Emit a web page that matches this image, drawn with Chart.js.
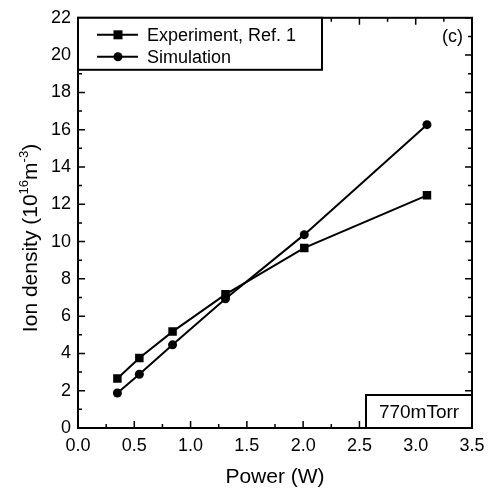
<!DOCTYPE html>
<html>
<head>
<meta charset="utf-8">
<script src="https://cdn.jsdelivr.net/npm/chart.js@4/dist/chart.umd.min.js"></script>
<style>
  html,body{margin:0;padding:0;background:#fff;}
  #wrap{width:492px;height:489px;}
</style>
</head>
<body>
<div id="wrap"><canvas id="ionChart"></canvas></div>
<script>
// ========== DATA ==========
const powerW = [0.35, 0.545, 0.84, 1.31, 2.01, 3.10];
const experiment = [2.65, 3.75, 5.17, 7.17, 9.66, 12.48];
const simulation = [1.88, 2.88, 4.46, 6.93, 10.37, 16.27];
const seriesNames = ["Experiment, Ref. 1", "Simulation"];
const xTicks = [0, 0.5, 1.0, 1.5, 2.0, 2.5, 3.0, 3.5];
const yTicks = [0, 2, 4, 6, 8, 10, 12, 14, 16, 18, 20, 22];

const FONT = "'Liberation Sans', Arial, sans-serif";

function pts(ys){
  return powerW.map((x,i)=>({x:x, y:ys[i]}));
}

// ========== FRAME, TICKS, LEGEND, LABELS ==========
const framePlugin = {
  id:"frame",
  afterDraw(chart){
    const ctx = chart.ctx;
    const a = chart.chartArea;
    const xs = chart.scales.x, ys = chart.scales.y;
    ctx.save();
    ctx.strokeStyle = "#000";
    ctx.lineWidth = 2;
    ctx.strokeRect(a.left, a.top, a.right-a.left, a.bottom-a.top);

    // inward ticks on all four sides
    ctx.lineWidth = 1.5;
    ctx.beginPath();
    for(let v=0; v<=3.5001; v+=0.25){
      const px = xs.getPixelForValue(v);
      const len = (Math.abs(v/0.5 - Math.round(v/0.5)) < 0.01) ? 7 : 4;
      ctx.moveTo(px, a.bottom); ctx.lineTo(px, a.bottom-len);
      ctx.moveTo(px, a.top); ctx.lineTo(px, a.top+len);
    }
    for(let v=0; v<=22; v+=1){
      const py = ys.getPixelForValue(v);
      const len = (v%2===0) ? 7 : 4;
      ctx.moveTo(a.left, py); ctx.lineTo(a.left+len, py);
      ctx.moveTo(a.right, py); ctx.lineTo(a.right-len, py);
    }
    ctx.stroke();

    // legend box
    const lx = a.left, ly = a.top, lw = 244, lh = 52;
    ctx.fillStyle = "#fff";
    ctx.fillRect(lx, ly, lw, lh);
    ctx.lineWidth = 2;
    ctx.strokeRect(lx, ly, lw, lh);
    const rows = [ly+17, ly+39];
    chart.data.datasets.forEach((ds,i)=>{
      const y = rows[i];
      ctx.strokeStyle = "#000";
      ctx.lineWidth = 2;
      ctx.beginPath();
      ctx.moveTo(lx+19, y); ctx.lineTo(lx+60, y);
      ctx.stroke();
      ctx.fillStyle = "#000";
      if(ds.pointStyle === "rect"){
        ctx.fillRect(lx+40-4.5, y-4.5, 9, 9);
      } else {
        ctx.beginPath(); ctx.arc(lx+40, y, 4.5, 0, Math.PI*2); ctx.fill();
      }
      ctx.font = "18px " + FONT;
      ctx.textBaseline = "middle";
      ctx.textAlign = "left";
      ctx.fillText(ds.label, lx+69, y+1);
    });

    // panel letter
    ctx.font = "18px " + FONT;
    ctx.textAlign = "right";
    ctx.textBaseline = "middle";
    ctx.fillText("(c)", a.right-9, a.top+19);

    // pressure box
    const bw = 106, bh = 33;
    ctx.fillStyle = "#fff";
    ctx.fillRect(a.right-bw, a.bottom-bh, bw, bh);
    ctx.lineWidth = 2;
    ctx.strokeRect(a.right-bw, a.bottom-bh, bw, bh);
    ctx.fillStyle = "#000";
    ctx.font = "19px " + FONT;
    ctx.textAlign = "center";
    ctx.fillText("770mTorr", a.right-bw/2, a.bottom-bh/2+1);

    // x title
    ctx.font = "21px " + FONT;
    ctx.textAlign = "center";
    ctx.textBaseline = "alphabetic";
    ctx.fillText("Power (W)", (a.left+a.right)/2, 483);

    // y title with superscripts
    const parts = [
      {t:"Ion density (10", s:21, dy:0},
      {t:"16", s:13, dy:-9},
      {t:"m", s:21, dy:0},
      {t:"-3", s:13, dy:-9},
      {t:")", s:21, dy:0}
    ];
    let total = 0;
    parts.forEach(p=>{ ctx.font = p.s+"px "+FONT; p.w = ctx.measureText(p.t).width; total += p.w; });
    ctx.translate(37, 238);
    ctx.rotate(-Math.PI/2);
    ctx.textAlign = "left";
    let cx = -total/2;
    parts.forEach(p=>{
      ctx.font = p.s+"px "+FONT;
      ctx.fillText(p.t, cx, p.dy);
      cx += p.w;
    });
    ctx.restore();
  }
};

// ========== CHART ==========
new Chart(document.getElementById("ionChart"),{
  type:"scatter",
  data:{
    datasets:[
      {
        label:seriesNames[0],
        data:pts(experiment),
        showLine:true,
        borderColor:"#000",
        backgroundColor:"#000",
        borderWidth:2,
        pointStyle:"rect",
        pointRadius:6,
        pointBorderWidth:0
      },
      {
        label:seriesNames[1],
        data:pts(simulation),
        showLine:true,
        borderColor:"#000",
        backgroundColor:"#000",
        borderWidth:2,
        pointStyle:"circle",
        pointRadius:4.5,
        pointBorderWidth:0
      }
    ]
  },
  options:{
    responsive:true,
    maintainAspectRatio:false,
    animation:false,
    layout:{padding:{top:15, right:20, left:0, bottom:0}},
    plugins:{legend:{display:false}, tooltip:{enabled:false}},
    scales:{
      x:{
        type:"linear",
        min:0, max:3.5,
        afterBuildTicks:s=>{ s.ticks = xTicks.map(v=>({value:v})); },
        afterFit:s=>{ s.height = 61; },
        ticks:{
          color:"#000",
          font:{family:FONT, size:18},
          padding:7,
          maxRotation:0,
          callback:v=>v.toFixed(1)
        },
        grid:{drawOnChartArea:false, drawTicks:false},
        border:{display:false}
      },
      y:{
        min:0, max:22,
        afterBuildTicks:s=>{ s.ticks = yTicks.map(v=>({value:v})); },
        afterFit:s=>{ s.width = 78; },
        ticks:{
          color:"#000",
          font:{family:FONT, size:18},
          padding:7
        },
        grid:{drawOnChartArea:false, drawTicks:false},
        border:{display:false}
      }
    }
  },
  plugins:[framePlugin]
});
</script>
</body>
</html>
